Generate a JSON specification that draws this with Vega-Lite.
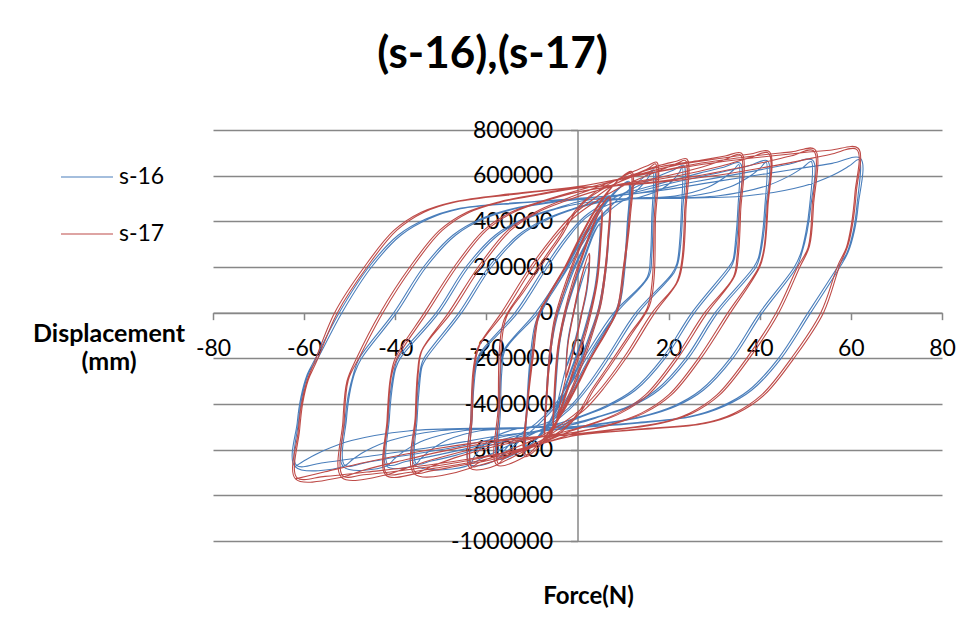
{
"$schema": "https://vega.github.io/schema/vega-lite/v6.json",
"width": 729, "height": 411,
"autosize": {"type": "none"},
"padding": {"left": 213, "top": 130, "right": 25, "bottom": 77},
"background": "white",
"config": {"view": {"stroke": null}, "font": "Lato"},
"title": {"text": "(s-16),(s-17)", "font": "Lato", "fontSize": 44, "fontWeight": "bold", "color": "#000000", "anchor": "middle", "frame": "group", "dx": -85, "baseline": "alphabetic", "offset": 7},
"encoding": {
 "x": {"field": "x", "type": "quantitative", "scale": {"domain": [-80, 80], "nice": false, "zero": false},
  "axis": {"values": [-80,-60,-40,-20,0,20,40,60,80], "offset": -228.33, "grid": false, "domainColor": "#878787", "domainWidth": 1.5, "tickColor": "#878787", "tickWidth": 1.5, "tickSize": 7, "labelFont": "Lato", "labelFontSize": 23, "labelColor": "#000000", "labelPadding": 18, "labelExpr": "'' + datum.value", "labelOverlap": false, "labelFlush": false, "labelBound": false, "title": "Force(N)", "titleFont": "Lato", "titleFontSize": 24, "titleFontWeight": "bold", "titleColor": "#000000", "titleX": 375, "titleY": 284, "titleBaseline": "middle", "titleAlign": "center"}},
 "y": {"field": "y", "type": "quantitative", "scale": {"domain": [-1000000, 800000], "nice": false, "zero": false},
  "axis": {"values": [-1000000,-800000,-600000,-400000,-200000,0,200000,400000,600000,800000], "offset": -364.5, "grid": true, "gridColor": "#878787", "gridWidth": 1.5, "domainColor": "#878787", "domainWidth": 1.5, "tickColor": "#878787", "tickWidth": 1.5, "tickSize": 7, "labelFont": "Lato", "labelFontSize": 23, "labelColor": "#000000", "labelPadding": 18, "labelExpr": "'' + datum.value", "labelOverlap": false, "labelFlush": false, "labelBound": false, "title": ["Displacement", "(mm)"], "titleFont": "Lato", "titleFontSize": 25, "titleFontWeight": "bold", "titleColor": "#000000", "titleAngle": 0, "titleAlign": "center", "titleBaseline": "middle", "titleX": -469, "titleY": 203, "titleLineHeight": 28}},
 "order": {"value": null}
},
"layer": [
{"data": {"values": [
{"x":-2.5,"y":-240000},{"x":-2.1,"y":-120000},{"x":-0.9,"y":0},{"x":0.5,"y":110000},{"x":2.5,"y":220000},{"x":2.1,"y":100000},{"x":0.9,"y":-10000},{"x":-0.5,"y":-120000},{"x":-2.4,"y":-236000},{"x":-2.0,"y":-110000},{"x":-0.7,"y":10000},{"x":0.7,"y":120000},{"x":2.4,"y":216000},{"x":2.0,"y":95000},{"x":0.7,"y":-20000},{"x":-0.7,"y":-130000},{"x":-2.5,"y":-240000},
{"x":-5.0,"y":-430000},{"x":-4.8,"y":-290000},{"x":-4.1,"y":-130000},{"x":-2.8,"y":0},{"x":-0.9,"y":120000},{"x":1.4,"y":240000},{"x":3.3,"y":340000},{"x":5.0,"y":390000},{"x":4.8,"y":260000},{"x":4.1,"y":120000},{"x":2.8,"y":0},{"x":0.9,"y":-130000},{"x":-1.4,"y":-260000},{"x":-3.3,"y":-360000},{"x":-4.8,"y":-425000},{"x":-4.6,"y":-280000},{"x":-3.8,"y":-120000},{"x":-2.4,"y":10000},{"x":-0.5,"y":130000},{"x":1.8,"y":250000},{"x":3.6,"y":345000},{"x":4.8,"y":385000},{"x":4.6,"y":250000},{"x":3.8,"y":110000},{"x":2.4,"y":-10000},{"x":0.5,"y":-140000},{"x":-1.8,"y":-270000},{"x":-3.6,"y":-365000},{"x":-5.0,"y":-430000},
{"x":-7.0,"y":-500000},{"x":-6.8,"y":-340000},{"x":-6.1,"y":-170000},{"x":-5.0,"y":-40000},{"x":-3.3,"y":70000},{"x":-0.8,"y":200000},{"x":2.2,"y":320000},{"x":4.6,"y":410000},{"x":7.0,"y":455000},{"x":6.8,"y":310000},{"x":6.1,"y":160000},{"x":5.0,"y":30000},{"x":3.3,"y":-80000},{"x":0.8,"y":-210000},{"x":-2.2,"y":-340000},{"x":-4.6,"y":-430000},{"x":-6.8,"y":-494000},{"x":-6.6,"y":-330000},{"x":-5.8,"y":-160000},{"x":-4.6,"y":-30000},{"x":-2.8,"y":80000},{"x":-0.3,"y":210000},{"x":2.6,"y":325000},{"x":4.9,"y":412000},{"x":6.8,"y":450000},{"x":6.6,"y":300000},{"x":5.8,"y":150000},{"x":4.6,"y":20000},{"x":2.8,"y":-90000},{"x":0.3,"y":-220000},{"x":-2.6,"y":-345000},{"x":-4.9,"y":-435000},{"x":-7.0,"y":-500000},
{"x":-11.3,"y":-590000},{"x":-11.1,"y":-400000},{"x":-10.4,"y":-200000},{"x":-9.3,"y":-50000},{"x":-7.3,"y":40000},{"x":-4,"y":150000},{"x":-1,"y":260000},{"x":2.5,"y":380000},{"x":6,"y":480000},{"x":9,"y":545000},{"x":11.3,"y":575000},{"x":11.1,"y":390000},{"x":10.4,"y":190000},{"x":9.3,"y":40000},{"x":7.3,"y":-50000},{"x":4,"y":-160000},{"x":1,"y":-270000},{"x":-2.5,"y":-390000},{"x":-6,"y":-490000},{"x":-9,"y":-555000},{"x":-11.1,"y":-584000},{"x":-10.9,"y":-395000},{"x":-10.1,"y":-195000},{"x":-8.9,"y":-45000},{"x":-6.8,"y":45000},{"x":-3.5,"y":155000},{"x":-0.5,"y":265000},{"x":3,"y":385000},{"x":6.4,"y":482000},{"x":9.2,"y":545000},{"x":11.1,"y":570000},{"x":10.9,"y":385000},{"x":10.1,"y":185000},{"x":8.9,"y":35000},{"x":6.8,"y":-55000},{"x":3.5,"y":-165000},{"x":0.5,"y":-275000},{"x":-3,"y":-395000},{"x":-6.4,"y":-492000},{"x":-9.2,"y":-558000},{"x":-11.3,"y":-590000},
{"x":-17.4,"y":-640000},{"x":-17.2,"y":-430000},{"x":-16.9,"y":-260000},{"x":-16.3,"y":-170000},{"x":-9.2,"y":0},{"x":-3.5,"y":170000},{"x":0.5,"y":300000},{"x":4,"y":400000},{"x":8,"y":480000},{"x":12,"y":550000},{"x":15,"y":600000},{"x":16.8,"y":625000},{"x":16.6,"y":420000},{"x":16.3,"y":250000},{"x":15.7,"y":160000},{"x":8.6,"y":0},{"x":2.9,"y":-170000},{"x":-1.1,"y":-300000},{"x":-4.6,"y":-405000},{"x":-8.6,"y":-490000},{"x":-12.6,"y":-560000},{"x":-15.6,"y":-610000},{"x":-17.1,"y":-634000},{"x":-16.9,"y":-425000},{"x":-16.6,"y":-255000},{"x":-15.9,"y":-165000},{"x":-8.6,"y":0},{"x":-2.9,"y":170000},{"x":1,"y":300000},{"x":4.5,"y":400000},{"x":8.5,"y":470000},{"x":12.5,"y":525000},{"x":15.3,"y":585000},{"x":16.5,"y":619000},{"x":16.3,"y":415000},{"x":16.0,"y":245000},{"x":15.3,"y":155000},{"x":8.0,"y":0},{"x":2.3,"y":-170000},{"x":-1.6,"y":-300000},{"x":-5.1,"y":-405000},{"x":-9.1,"y":-485000},{"x":-13.1,"y":-540000},{"x":-15.9,"y":-600000},{"x":-17.4,"y":-640000},
{"x":-23.6,"y":-665000},{"x":-23.4,"y":-460000},{"x":-23.0,"y":-320000},{"x":-22.4,"y":-230000},{"x":-21.5,"y":-180000},{"x":-13.7,"y":0},{"x":-7.5,"y":190000},{"x":-3,"y":320000},{"x":1.5,"y":420000},{"x":6,"y":480000},{"x":11.7,"y":539000},{"x":17.5,"y":595000},{"x":21,"y":624000},{"x":23.3,"y":645000},{"x":23.1,"y":450000},{"x":22.7,"y":310000},{"x":22.1,"y":220000},{"x":21.2,"y":175000},{"x":13.4,"y":0},{"x":7.2,"y":-190000},{"x":2.7,"y":-320000},{"x":-1.8,"y":-425000},{"x":-6,"y":-490000},{"x":-11.8,"y":-550000},{"x":-17.7,"y":-607000},{"x":-21.2,"y":-640000},{"x":-23.3,"y":-659000},{"x":-23.1,"y":-455000},{"x":-22.7,"y":-315000},{"x":-22.1,"y":-225000},{"x":-21.0,"y":-175000},{"x":-13.1,"y":0},{"x":-6.9,"y":190000},{"x":-2.4,"y":320000},{"x":1.8,"y":415000},{"x":7,"y":475000},{"x":14,"y":508000},{"x":18.6,"y":543000},{"x":21,"y":581000},{"x":22.4,"y":616000},{"x":23.0,"y":639000},{"x":22.8,"y":445000},{"x":22.4,"y":305000},{"x":21.8,"y":215000},{"x":20.7,"y":170000},{"x":12.8,"y":0},{"x":6.6,"y":-190000},{"x":2.1,"y":-320000},{"x":-2.1,"y":-420000},{"x":-7.1,"y":-485000},{"x":-14.2,"y":-513000},{"x":-18.9,"y":-551000},{"x":-21.2,"y":-594000},{"x":-22.7,"y":-632000},{"x":-23.6,"y":-665000},
{"x":-35.7,"y":-667000},{"x":-35.5,"y":-470000},{"x":-35.0,"y":-330000},{"x":-34.4,"y":-240000},{"x":-33.7,"y":-200000},{"x":-26.0,"y":0},{"x":-19.5,"y":200000},{"x":-13,"y":340000},{"x":-7,"y":410000},{"x":-1,"y":455000},{"x":4,"y":485000},{"x":8.9,"y":515000},{"x":17.9,"y":564000},{"x":26.8,"y":611000},{"x":32.1,"y":637000},{"x":35.7,"y":655000},{"x":35.5,"y":460000},{"x":35.0,"y":325000},{"x":34.4,"y":235000},{"x":33.7,"y":200000},{"x":25.7,"y":0},{"x":19.2,"y":-200000},{"x":12.7,"y":-340000},{"x":6.7,"y":-410000},{"x":1,"y":-455000},{"x":-4,"y":-495000},{"x":-8.9,"y":-522000},{"x":-17.9,"y":-574000},{"x":-26.8,"y":-625000},{"x":-32.1,"y":-650000},{"x":-35.4,"y":-661000},{"x":-35.2,"y":-465000},{"x":-34.7,"y":-325000},{"x":-34.1,"y":-235000},{"x":-33.2,"y":-200000},{"x":-25.4,"y":0},{"x":-18.9,"y":200000},{"x":-12.4,"y":340000},{"x":-6.4,"y":410000},{"x":-0.5,"y":455000},{"x":4.5,"y":482000},{"x":10.7,"y":500000},{"x":21.4,"y":511000},{"x":28.6,"y":549000},{"x":32.1,"y":590000},{"x":34.3,"y":626000},{"x":35.4,"y":649000},{"x":35.2,"y":455000},{"x":34.7,"y":320000},{"x":34.1,"y":230000},{"x":33.2,"y":200000},{"x":25.1,"y":0},{"x":18.6,"y":-200000},{"x":12.1,"y":-340000},{"x":6.1,"y":-410000},{"x":0.5,"y":-455000},{"x":-4.5,"y":-487000},{"x":-10.7,"y":-505000},{"x":-21.4,"y":-517000},{"x":-28.6,"y":-558000},{"x":-32.1,"y":-600000},{"x":-34.3,"y":-637000},{"x":-35.7,"y":-667000},
{"x":-41.9,"y":-672000},{"x":-41.6,"y":-470000},{"x":-41.0,"y":-340000},{"x":-40.2,"y":-250000},{"x":-39.4,"y":-200000},{"x":-31.0,"y":0},{"x":-24.5,"y":200000},{"x":-18,"y":340000},{"x":-12,"y":410000},{"x":-5,"y":455000},{"x":0,"y":485000},{"x":10.4,"y":517000},{"x":20.9,"y":569000},{"x":31.3,"y":614000},{"x":37.5,"y":642000},{"x":41.7,"y":665000},{"x":41.4,"y":465000},{"x":40.8,"y":335000},{"x":40.0,"y":245000},{"x":39.2,"y":200000},{"x":30.8,"y":0},{"x":24.3,"y":-200000},{"x":17.8,"y":-340000},{"x":11.8,"y":-410000},{"x":5,"y":-455000},{"x":0,"y":-485000},{"x":-10.5,"y":-525000},{"x":-21,"y":-580000},{"x":-31.4,"y":-626000},{"x":-37.7,"y":-652000},{"x":-41.6,"y":-666000},{"x":-41.3,"y":-465000},{"x":-40.7,"y":-335000},{"x":-39.9,"y":-245000},{"x":-38.9,"y":-200000},{"x":-30.4,"y":0},{"x":-23.9,"y":200000},{"x":-17.4,"y":340000},{"x":-11.4,"y":410000},{"x":-4.5,"y":455000},{"x":0.5,"y":478000},{"x":12.5,"y":500000},{"x":25,"y":511000},{"x":33.4,"y":550000},{"x":37.5,"y":593000},{"x":40,"y":631000},{"x":41.4,"y":659000},{"x":41.1,"y":460000},{"x":40.5,"y":330000},{"x":39.7,"y":240000},{"x":38.7,"y":200000},{"x":30.2,"y":0},{"x":23.7,"y":-200000},{"x":17.2,"y":-340000},{"x":11.2,"y":-410000},{"x":4.5,"y":-455000},{"x":-0.5,"y":-482000},{"x":-12.6,"y":-505000},{"x":-25.1,"y":-517000},{"x":-33.5,"y":-558000},{"x":-37.7,"y":-602000},{"x":-40.2,"y":-640000},{"x":-41.9,"y":-672000},
{"x":-51.4,"y":-674000},{"x":-51.0,"y":-470000},{"x":-50.3,"y":-360000},{"x":-49.2,"y":-270000},{"x":-47.9,"y":-200000},{"x":-40.3,"y":0},{"x":-33.8,"y":200000},{"x":-27.3,"y":340000},{"x":-21.3,"y":410000},{"x":-14.3,"y":455000},{"x":-6,"y":485000},{"x":0,"y":500000},{"x":12.9,"y":522000},{"x":25.8,"y":573000},{"x":38.7,"y":620000},{"x":46.4,"y":650000},{"x":51.6,"y":668000},{"x":51.2,"y":465000},{"x":50.4,"y":355000},{"x":49.3,"y":265000},{"x":48.1,"y":200000},{"x":40.6,"y":0},{"x":34.1,"y":-200000},{"x":27.6,"y":-340000},{"x":21.6,"y":-410000},{"x":14.6,"y":-455000},{"x":6.5,"y":-485000},{"x":0,"y":-500000},{"x":-12.9,"y":-530000},{"x":-25.7,"y":-585000},{"x":-38.6,"y":-628000},{"x":-46.3,"y":-656000},{"x":-51.1,"y":-668000},{"x":-50.7,"y":-465000},{"x":-50.0,"y":-355000},{"x":-48.9,"y":-265000},{"x":-47.4,"y":-200000},{"x":-39.7,"y":0},{"x":-33.2,"y":200000},{"x":-26.7,"y":340000},{"x":-20.7,"y":410000},{"x":-13.7,"y":455000},{"x":-5.5,"y":483000},{"x":0,"y":495000},{"x":15.5,"y":500000},{"x":31,"y":512000},{"x":41.3,"y":554000},{"x":46.4,"y":598000},{"x":49.5,"y":636000},{"x":51.3,"y":662000},{"x":50.9,"y":460000},{"x":50.1,"y":350000},{"x":49.0,"y":260000},{"x":47.6,"y":200000},{"x":40.0,"y":0},{"x":33.5,"y":-200000},{"x":27.0,"y":-340000},{"x":21.0,"y":-410000},{"x":14.0,"y":-455000},{"x":6,"y":-483000},{"x":0,"y":-498000},{"x":-15.4,"y":-505000},{"x":-30.8,"y":-518000},{"x":-41.1,"y":-560000},{"x":-46.3,"y":-604000},{"x":-49.3,"y":-642000},{"x":-51.4,"y":-674000},
{"x":-62.0,"y":-674000},{"x":-61.5,"y":-480000},{"x":-60.7,"y":-370000},{"x":-59.3,"y":-270000},{"x":-57.5,"y":-200000},{"x":-52.3,"y":0},{"x":-45.8,"y":200000},{"x":-39.3,"y":340000},{"x":-33.3,"y":410000},{"x":-26.3,"y":455000},{"x":-13,"y":482000},{"x":0,"y":500000},{"x":15.5,"y":528000},{"x":31,"y":576000},{"x":46.6,"y":625000},{"x":55.9,"y":654000},{"x":62.1,"y":676000},{"x":61.6,"y":470000},{"x":60.8,"y":360000},{"x":59.4,"y":265000},{"x":57.6,"y":200000},{"x":51.2,"y":0},{"x":44.7,"y":-200000},{"x":38.2,"y":-340000},{"x":32.2,"y":-410000},{"x":25.2,"y":-455000},{"x":12.5,"y":-485000},{"x":0,"y":-505000},{"x":-15.5,"y":-535000},{"x":-31,"y":-586000},{"x":-46.5,"y":-631000},{"x":-55.8,"y":-657000},{"x":-61.7,"y":-668000},{"x":-61.2,"y":-475000},{"x":-60.4,"y":-365000},{"x":-59.0,"y":-265000},{"x":-57.0,"y":-200000},{"x":-51.7,"y":0},{"x":-45.2,"y":200000},{"x":-38.7,"y":340000},{"x":-32.7,"y":410000},{"x":-25.7,"y":455000},{"x":-12.5,"y":480000},{"x":0,"y":497000},{"x":18.6,"y":500000},{"x":37.3,"y":512000},{"x":49.7,"y":555000},{"x":55.9,"y":601000},{"x":59.6,"y":642000},{"x":61.8,"y":670000},{"x":61.3,"y":465000},{"x":60.5,"y":355000},{"x":59.1,"y":260000},{"x":57.1,"y":200000},{"x":50.6,"y":0},{"x":44.1,"y":-200000},{"x":37.6,"y":-340000},{"x":31.6,"y":-410000},{"x":24.6,"y":-455000},{"x":12,"y":-483000},{"x":0,"y":-500000},{"x":-18.6,"y":-505000},{"x":-37.2,"y":-518000},{"x":-49.6,"y":-560000},{"x":-55.8,"y":-605000},{"x":-59.5,"y":-643000},{"x":-62.0,"y":-674000}
]},
 "mark": {"type": "line", "interpolate": "catmull-rom", "strokeWidth": 1.1},
 "encoding": {"color": {"datum": "s-16", "type": "nominal", "scale": {"domain": ["s-16", "s-17"], "range": ["#4A7EBB", "#BE4B48"]},
  "legend": {"orient": "none", "legendX": -153, "legendY": 20, "title": null, "symbolType": "stroke", "symbolSize": 2704, "symbolStrokeWidth": 1.1, "labelFont": "Lato", "labelFontSize": 23, "labelColor": "#000000", "labelOffset": 5, "rowPadding": 18, "padding": 0}}}
},
{"data": {"values": [
{"x":-2.6,"y":-290000},{"x":-2.2,"y":-150000},{"x":-1.0,"y":-10000},{"x":0.5,"y":130000},{"x":2.6,"y":260000},{"x":2.2,"y":130000},{"x":1.0,"y":0},{"x":-0.5,"y":-140000},{"x":-2.5,"y":-285000},{"x":-2.1,"y":-140000},{"x":-0.8,"y":0},{"x":0.7,"y":140000},{"x":2.5,"y":255000},{"x":2.1,"y":120000},{"x":0.8,"y":-10000},{"x":-0.7,"y":-150000},{"x":-2.6,"y":-290000},
{"x":-5.3,"y":-514000},{"x":-5.1,"y":-340000},{"x":-4.4,"y":-160000},{"x":-3.0,"y":-10000},{"x":-1.0,"y":140000},{"x":1.5,"y":280000},{"x":3.5,"y":390000},{"x":5.3,"y":450000},{"x":5.1,"y":300000},{"x":4.4,"y":140000},{"x":3.0,"y":0},{"x":1.0,"y":-150000},{"x":-1.5,"y":-300000},{"x":-3.5,"y":-420000},{"x":-5.1,"y":-508000},{"x":-4.9,"y":-330000},{"x":-4.1,"y":-150000},{"x":-2.6,"y":0},{"x":-0.5,"y":150000},{"x":1.9,"y":290000},{"x":3.8,"y":395000},{"x":5.1,"y":445000},{"x":4.9,"y":290000},{"x":4.1,"y":130000},{"x":2.6,"y":-10000},{"x":0.5,"y":-160000},{"x":-1.9,"y":-310000},{"x":-3.8,"y":-425000},{"x":-5.3,"y":-514000},
{"x":-7.1,"y":-557000},{"x":-6.9,"y":-380000},{"x":-6.2,"y":-190000},{"x":-5.2,"y":-40000},{"x":-3.5,"y":80000},{"x":-1.0,"y":220000},{"x":2.0,"y":360000},{"x":4.5,"y":450000},{"x":7.1,"y":508000},{"x":6.9,"y":350000},{"x":6.2,"y":180000},{"x":5.2,"y":40000},{"x":3.5,"y":-80000},{"x":1.0,"y":-230000},{"x":-2.0,"y":-380000},{"x":-4.5,"y":-480000},{"x":-6.9,"y":-550000},{"x":-6.7,"y":-370000},{"x":-5.9,"y":-180000},{"x":-4.8,"y":-30000},{"x":-3.0,"y":90000},{"x":-0.5,"y":230000},{"x":2.4,"y":365000},{"x":4.8,"y":452000},{"x":6.9,"y":502000},{"x":6.7,"y":340000},{"x":5.9,"y":170000},{"x":4.8,"y":30000},{"x":3.0,"y":-90000},{"x":0.5,"y":-240000},{"x":-2.4,"y":-385000},{"x":-4.8,"y":-485000},{"x":-7.1,"y":-557000},
{"x":-11.5,"y":-630000},{"x":-11.2,"y":-430000},{"x":-10.0,"y":-200000},{"x":-8.8,"y":-20000},{"x":-6.3,"y":80000},{"x":-2.8,"y":200000},{"x":0.2,"y":320000},{"x":3.2,"y":430000},{"x":6.2,"y":520000},{"x":9.2,"y":585000},{"x":11.9,"y":618000},{"x":11.6,"y":420000},{"x":10.3,"y":200000},{"x":9.0,"y":20000},{"x":6.5,"y":-80000},{"x":3.0,"y":-200000},{"x":0.0,"y":-320000},{"x":-3.0,"y":-430000},{"x":-6.0,"y":-520000},{"x":-9.0,"y":-585000},{"x":-11.3,"y":-622000},{"x":-11.0,"y":-420000},{"x":-9.7,"y":-190000},{"x":-8.4,"y":-10000},{"x":-5.8,"y":90000},{"x":-2.3,"y":210000},{"x":0.7,"y":330000},{"x":3.7,"y":440000},{"x":6.6,"y":525000},{"x":9.4,"y":588000},{"x":11.6,"y":612000},{"x":11.3,"y":410000},{"x":10.0,"y":190000},{"x":8.6,"y":10000},{"x":6.0,"y":-90000},{"x":2.5,"y":-210000},{"x":-0.5,"y":-330000},{"x":-3.5,"y":-440000},{"x":-6.4,"y":-525000},{"x":-9.2,"y":-590000},{"x":-11.5,"y":-630000},
{"x":-17.7,"y":-667000},{"x":-17.4,"y":-410000},{"x":-17.1,"y":-150000},{"x":-16.1,"y":-30000},{"x":-12.3,"y":90000},{"x":-7.4,"y":236000},{"x":-3.8,"y":340000},{"x":-1.5,"y":420000},{"x":1.2,"y":485000},{"x":4,"y":530000},{"x":8,"y":575000},{"x":12.5,"y":620000},{"x":15.5,"y":645000},{"x":17.4,"y":659000},{"x":17.1,"y":400000},{"x":16.8,"y":150000},{"x":15.8,"y":30000},{"x":12.0,"y":-90000},{"x":7.1,"y":-236000},{"x":3.5,"y":-340000},{"x":1.2,"y":-420000},{"x":-1.5,"y":-485000},{"x":-4,"y":-530000},{"x":-8,"y":-570000},{"x":-13,"y":-620000},{"x":-16,"y":-650000},{"x":-17.4,"y":-660000},{"x":-17.1,"y":-400000},{"x":-16.7,"y":-140000},{"x":-15.6,"y":-20000},{"x":-11.7,"y":95000},{"x":-6.8,"y":240000},{"x":-3.2,"y":345000},{"x":-0.9,"y":425000},{"x":1.8,"y":490000},{"x":5,"y":535000},{"x":9,"y":570000},{"x":13,"y":605000},{"x":15.8,"y":635000},{"x":17.1,"y":652000},{"x":16.8,"y":390000},{"x":16.4,"y":140000},{"x":15.3,"y":20000},{"x":11.4,"y":-95000},{"x":6.5,"y":-240000},{"x":2.9,"y":-345000},{"x":0.6,"y":-425000},{"x":-2.1,"y":-490000},{"x":-5,"y":-535000},{"x":-9,"y":-570000},{"x":-13.5,"y":-610000},{"x":-16.2,"y":-640000},{"x":-17.7,"y":-667000},
{"x":-23.6,"y":-681000},{"x":-23.4,"y":-460000},{"x":-22.9,"y":-250000},{"x":-21.8,"y":-150000},{"x":-16.7,"y":0},{"x":-10.7,"y":190000},{"x":-5.5,"y":330000},{"x":-1.5,"y":420000},{"x":3,"y":490000},{"x":8,"y":560000},{"x":13,"y":610000},{"x":18,"y":645000},{"x":21.5,"y":662000},{"x":24.0,"y":673000},{"x":23.8,"y":450000},{"x":23.2,"y":240000},{"x":22.1,"y":140000},{"x":17.0,"y":0},{"x":11.0,"y":-190000},{"x":5.8,"y":-330000},{"x":1.8,"y":-420000},{"x":-2.8,"y":-490000},{"x":-8,"y":-560000},{"x":-13,"y":-610000},{"x":-18,"y":-648000},{"x":-21.5,"y":-668000},{"x":-23.3,"y":-674000},{"x":-23.1,"y":-450000},{"x":-22.6,"y":-240000},{"x":-21.4,"y":-140000},{"x":-16.1,"y":0},{"x":-10.1,"y":190000},{"x":-4.9,"y":330000},{"x":-0.9,"y":415000},{"x":3.5,"y":480000},{"x":9,"y":545000},{"x":14,"y":590000},{"x":19,"y":630000},{"x":22,"y":655000},{"x":23.7,"y":666000},{"x":23.5,"y":440000},{"x":22.9,"y":230000},{"x":21.7,"y":130000},{"x":16.4,"y":0},{"x":10.4,"y":-190000},{"x":5.2,"y":-330000},{"x":1.2,"y":-415000},{"x":-3.3,"y":-485000},{"x":-9,"y":-550000},{"x":-14,"y":-595000},{"x":-19,"y":-635000},{"x":-21.8,"y":-658000},{"x":-23.6,"y":-681000},
{"x":-35.8,"y":-706000},{"x":-35.6,"y":-450000},{"x":-35.1,"y":-260000},{"x":-34.3,"y":-170000},{"x":-28.3,"y":0},{"x":-21.8,"y":200000},{"x":-15.3,"y":360000},{"x":-9.3,"y":440000},{"x":-3,"y":495000},{"x":3,"y":540000},{"x":9,"y":584000},{"x":18,"y":638000},{"x":27,"y":667000},{"x":32.4,"y":686000},{"x":36,"y":698000},{"x":35.8,"y":440000},{"x":35.3,"y":250000},{"x":34.5,"y":160000},{"x":28.5,"y":0},{"x":22.0,"y":-200000},{"x":15.5,"y":-360000},{"x":9.5,"y":-440000},{"x":3,"y":-490000},{"x":-3,"y":-530000},{"x":-9,"y":-583000},{"x":-18,"y":-640000},{"x":-27,"y":-674000},{"x":-32.2,"y":-693000},{"x":-35.6,"y":-700000},{"x":-35.4,"y":-440000},{"x":-34.9,"y":-255000},{"x":-34.1,"y":-165000},{"x":-27.7,"y":0},{"x":-21.2,"y":200000},{"x":-14.7,"y":360000},{"x":-8.7,"y":440000},{"x":-2.5,"y":490000},{"x":3.5,"y":530000},{"x":9,"y":561000},{"x":18,"y":592000},{"x":27,"y":636000},{"x":32.4,"y":671000},{"x":35.7,"y":692000},{"x":35.5,"y":435000},{"x":35.0,"y":245000},{"x":34.2,"y":155000},{"x":27.9,"y":0},{"x":21.4,"y":-200000},{"x":14.9,"y":-360000},{"x":8.9,"y":-440000},{"x":2.5,"y":-490000},{"x":-3.5,"y":-525000},{"x":-9,"y":-549000},{"x":-18,"y":-585000},{"x":-27,"y":-636000},{"x":-32.2,"y":-675000},{"x":-35.8,"y":-706000},
{"x":-42.1,"y":-711000},{"x":-41.8,"y":-470000},{"x":-41.1,"y":-290000},{"x":-40.0,"y":-200000},{"x":-33.6,"y":0},{"x":-27.1,"y":200000},{"x":-20.6,"y":360000},{"x":-14.6,"y":440000},{"x":-7.6,"y":490000},{"x":0,"y":535000},{"x":10.5,"y":589000},{"x":21,"y":643000},{"x":31.6,"y":676000},{"x":37.9,"y":695000},{"x":42.1,"y":705000},{"x":41.8,"y":465000},{"x":41.1,"y":285000},{"x":40.0,"y":200000},{"x":33.6,"y":0},{"x":27.1,"y":-200000},{"x":20.6,"y":-360000},{"x":14.6,"y":-440000},{"x":7.6,"y":-490000},{"x":0,"y":-525000},{"x":-10.5,"y":-591000},{"x":-21,"y":-646000},{"x":-31.6,"y":-682000},{"x":-37.9,"y":-702000},{"x":-41.9,"y":-705000},{"x":-41.6,"y":-465000},{"x":-40.9,"y":-285000},{"x":-39.6,"y":-200000},{"x":-33.0,"y":0},{"x":-26.5,"y":200000},{"x":-20.0,"y":360000},{"x":-14.0,"y":440000},{"x":-7,"y":490000},{"x":0.5,"y":530000},{"x":10.5,"y":562000},{"x":21,"y":595000},{"x":31.6,"y":642000},{"x":37.9,"y":679000},{"x":41.9,"y":699000},{"x":41.6,"y":460000},{"x":40.9,"y":280000},{"x":39.8,"y":200000},{"x":33.0,"y":0},{"x":26.5,"y":-200000},{"x":20.0,"y":-360000},{"x":14.0,"y":-440000},{"x":7.0,"y":-490000},{"x":0,"y":-522000},{"x":-10.5,"y":-550000},{"x":-21,"y":-588000},{"x":-31.6,"y":-642000},{"x":-37.9,"y":-683000},{"x":-42.1,"y":-711000},
{"x":-51.8,"y":-721000},{"x":-51.5,"y":-480000},{"x":-50.6,"y":-300000},{"x":-48.5,"y":-200000},{"x":-43.3,"y":0},{"x":-36.8,"y":200000},{"x":-30.3,"y":360000},{"x":-24.3,"y":440000},{"x":-17.3,"y":485000},{"x":-8.5,"y":520000},{"x":0,"y":550000},{"x":13,"y":599000},{"x":26,"y":651000},{"x":39,"y":687000},{"x":47,"y":704000},{"x":52.1,"y":715000},{"x":51.8,"y":470000},{"x":50.9,"y":290000},{"x":48.8,"y":200000},{"x":44.2,"y":0},{"x":37.7,"y":-200000},{"x":31.2,"y":-360000},{"x":25.2,"y":-440000},{"x":18.2,"y":-485000},{"x":9,"y":-512000},{"x":0,"y":-535000},{"x":-13,"y":-601000},{"x":-26,"y":-655000},{"x":-39,"y":-692000},{"x":-47,"y":-710000},{"x":-51.5,"y":-715000},{"x":-51.2,"y":-475000},{"x":-50.3,"y":-295000},{"x":-48.0,"y":-200000},{"x":-42.7,"y":0},{"x":-36.2,"y":200000},{"x":-29.7,"y":360000},{"x":-23.7,"y":440000},{"x":-16.7,"y":485000},{"x":-8,"y":518000},{"x":0,"y":545000},{"x":13,"y":564000},{"x":26,"y":598000},{"x":39,"y":650000},{"x":47,"y":687000},{"x":51.8,"y":709000},{"x":51.5,"y":465000},{"x":50.6,"y":285000},{"x":48.3,"y":200000},{"x":43.6,"y":0},{"x":37.1,"y":-200000},{"x":30.6,"y":-360000},{"x":24.6,"y":-440000},{"x":17.6,"y":-485000},{"x":8.5,"y":-510000},{"x":0,"y":-530000},{"x":-13,"y":-552000},{"x":-26,"y":-592000},{"x":-39,"y":-650000},{"x":-47,"y":-690000},{"x":-51.8,"y":-721000},
{"x":-61.9,"y":-728000},{"x":-61.3,"y":-520000},{"x":-60.6,"y":-400000},{"x":-59.4,"y":-300000},{"x":-57.8,"y":-220000},{"x":-53.3,"y":0},{"x":-46.8,"y":200000},{"x":-40.3,"y":360000},{"x":-34.3,"y":440000},{"x":-27.3,"y":485000},{"x":-14,"y":522000},{"x":0,"y":552000},{"x":15.4,"y":610000},{"x":30.8,"y":659000},{"x":46.2,"y":694000},{"x":55.4,"y":711000},{"x":61.6,"y":720000},{"x":61.2,"y":530000},{"x":60.4,"y":390000},{"x":59.3,"y":290000},{"x":57.6,"y":210000},{"x":54.0,"y":0},{"x":47.5,"y":-200000},{"x":41.0,"y":-360000},{"x":35.0,"y":-440000},{"x":28.0,"y":-485000},{"x":14,"y":-512000},{"x":0,"y":-537000},{"x":-15.4,"y":-610000},{"x":-30.8,"y":-662000},{"x":-46.2,"y":-698000},{"x":-55.4,"y":-717000},{"x":-61.6,"y":-722000},{"x":-61.0,"y":-515000},{"x":-60.3,"y":-395000},{"x":-59.1,"y":-295000},{"x":-57.3,"y":-215000},{"x":-52.7,"y":0},{"x":-46.2,"y":200000},{"x":-39.7,"y":360000},{"x":-33.7,"y":440000},{"x":-26.7,"y":485000},{"x":-13,"y":520000},{"x":0,"y":548000},{"x":15.4,"y":566000},{"x":30.8,"y":602000},{"x":46.2,"y":655000},{"x":55.4,"y":693000},{"x":61.3,"y":714000},{"x":60.9,"y":525000},{"x":60.1,"y":385000},{"x":59.0,"y":285000},{"x":57.1,"y":205000},{"x":53.4,"y":0},{"x":46.9,"y":-200000},{"x":40.4,"y":-360000},{"x":34.4,"y":-440000},{"x":27.4,"y":-485000},{"x":13.5,"y":-510000},{"x":0,"y":-533000},{"x":-15.4,"y":-554000},{"x":-30.8,"y":-595000},{"x":-46.2,"y":-654000},{"x":-55.4,"y":-697000},{"x":-61.9,"y":-728000}
]},
 "mark": {"type": "line", "interpolate": "catmull-rom", "strokeWidth": 1.1},
 "encoding": {"color": {"datum": "s-17", "type": "nominal"}}
}
]
}
